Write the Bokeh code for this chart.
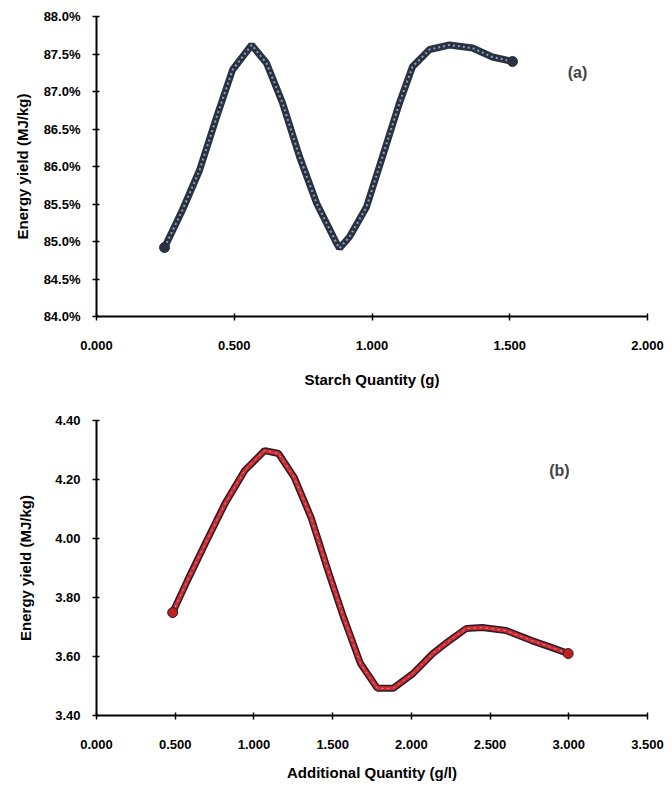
from bokeh.plotting import figure
from bokeh.layouts import column
from bokeh.models import Range1d, FixedTicker, PrintfTickFormatter, Label
from bokeh.embed import file_html
from bokeh.resources import INLINE

# ---- data ----
a_x = [0.247, 0.312, 0.374, 0.436, 0.494, 0.563, 0.617, 0.675, 0.737, 0.799,
       0.871, 0.882, 0.918, 0.980, 1.038, 1.100, 1.147, 1.209, 1.281, 1.365,
       1.437, 1.510]
a_y = [84.92, 85.42, 85.95, 86.66, 87.29, 87.62, 87.38, 86.85, 86.13, 85.51,
       84.98, 84.91, 85.06, 85.46, 86.13, 86.85, 87.33, 87.56, 87.62, 87.58,
       87.46, 87.40]
a_xticks = [0.0, 0.5, 1.0, 1.5, 2.0]
a_yticks = [84.0, 84.5, 85.0, 85.5, 86.0, 86.5, 87.0, 87.5, 88.0]

b_x = [0.484, 0.578, 0.691, 0.817, 0.942, 1.068, 1.156, 1.256, 1.363, 1.470,
       1.570, 1.677, 1.784, 1.884, 2.010, 2.136, 2.242, 2.349, 2.450, 2.601,
       2.764, 2.889, 2.996]
b_y = [3.749, 3.858, 3.983, 4.119, 4.231, 4.298, 4.288, 4.207, 4.071, 3.892,
       3.732, 3.576, 3.492, 3.492, 3.542, 3.610, 3.654, 3.695, 3.698, 3.688,
       3.654, 3.631, 3.610]
b_xticks = [0.0, 0.5, 1.0, 1.5, 2.0, 2.5, 3.0, 3.5]
b_yticks = [3.4, 3.6, 3.8, 4.0, 4.2, 4.4]

FONT = "Liberation Sans"


def style(p, xlabel, ylabel, xticks, yticks, xfmt, yfmt):
    p.xgrid.visible = False
    p.ygrid.visible = False
    p.outline_line_color = None
    for ax in (p.xaxis[0], p.yaxis[0]):
        ax.axis_line_color = "black"
        ax.axis_line_width = 2
        ax.major_tick_line_color = "black"
        ax.major_tick_line_width = 1.5
        ax.major_tick_in = 3
        ax.major_tick_out = 4
        ax.minor_tick_line_color = None
        ax.major_label_text_font = FONT
        ax.major_label_text_font_size = "13px"
        ax.major_label_text_font_style = "bold"
        ax.major_label_text_color = "black"
        ax.axis_label_text_font = FONT
        ax.axis_label_text_font_size = "15px"
        ax.axis_label_text_font_style = "bold"
        ax.axis_label_text_color = "black"
    p.xaxis[0].axis_label = xlabel
    p.yaxis[0].axis_label = ylabel
    p.xaxis[0].ticker = FixedTicker(ticks=xticks)
    p.yaxis[0].ticker = FixedTicker(ticks=yticks)
    p.xaxis[0].formatter = PrintfTickFormatter(format=xfmt)
    p.yaxis[0].formatter = PrintfTickFormatter(format=yfmt)
    p.xaxis[0].major_label_standoff = 20
    p.xaxis[0].axis_label_standoff = 18
    p.yaxis[0].major_label_standoff = 12
    p.yaxis[0].axis_label_standoff = 10


# ---- top chart (a) ----
p1 = figure(width=664, height=408, output_backend="svg", toolbar_location=None,
            x_range=Range1d(a_xticks[0], a_xticks[-1]),
            y_range=Range1d(a_yticks[0], a_yticks[-1]),
            min_border_left=96, min_border_right=17, min_border_top=16,
            min_border_bottom=92)
style(p1, "Starch Quantity (g)", "Energy yield (MJ/kg)", a_xticks, a_yticks,
      "%.3f", "%.1f%%")
p1.line(a_x, a_y, line_color="#2a3140", line_width=7)
p1.line(a_x, a_y, line_color="#8aa4c0", line_width=2, line_dash="2 3")
p1.scatter([a_x[0], a_x[-1]], [a_y[0], a_y[-1]], size=10,
           fill_color="#2a3140", line_color="#2a3140")
p1.add_layout(Label(x=1.746, y=87.25, text="(a)", text_font=FONT,
                    text_font_size="16px", text_font_style="bold",
                    text_align="center", text_baseline="middle"))

# ---- bottom chart (b) ----
p2 = figure(width=664, height=386, output_backend="svg", toolbar_location=None,
            x_range=Range1d(b_xticks[0], b_xticks[-1]),
            y_range=Range1d(b_yticks[0], b_yticks[-1]),
            min_border_left=94, min_border_right=15, min_border_top=12,
            min_border_bottom=79)
style(p2, "Additional Quantity (g/l)", "Energy yield (MJ/kg)", b_xticks,
      b_yticks, "%.3f", "%.2f")
p2.xaxis[0].major_label_standoff = 20
p2.xaxis[0].axis_label_standoff = 12
p2.yaxis[0].axis_label_standoff = 18
p2.line(b_x, b_y, line_color="#2a1a2a", line_width=7)
p2.line(b_x, b_y, line_color="#d42a2a", line_width=4)
p2.line(b_x, b_y, line_color="#8fa8d8", line_width=1, line_dash="2 4")
p2.scatter([b_x[0], b_x[-1]], [b_y[0], b_y[-1]], size=10,
           fill_color="#c02020", line_color="#2a1a2a")
p2.add_layout(Label(x=2.94, y=4.23, text="(b)", text_font=FONT,
                    text_font_size="16px", text_font_style="bold",
                    text_align="center", text_baseline="middle"))

layout = column(p1, p2, spacing=0)
open("out.html", "w").write(file_html(layout, INLINE))
